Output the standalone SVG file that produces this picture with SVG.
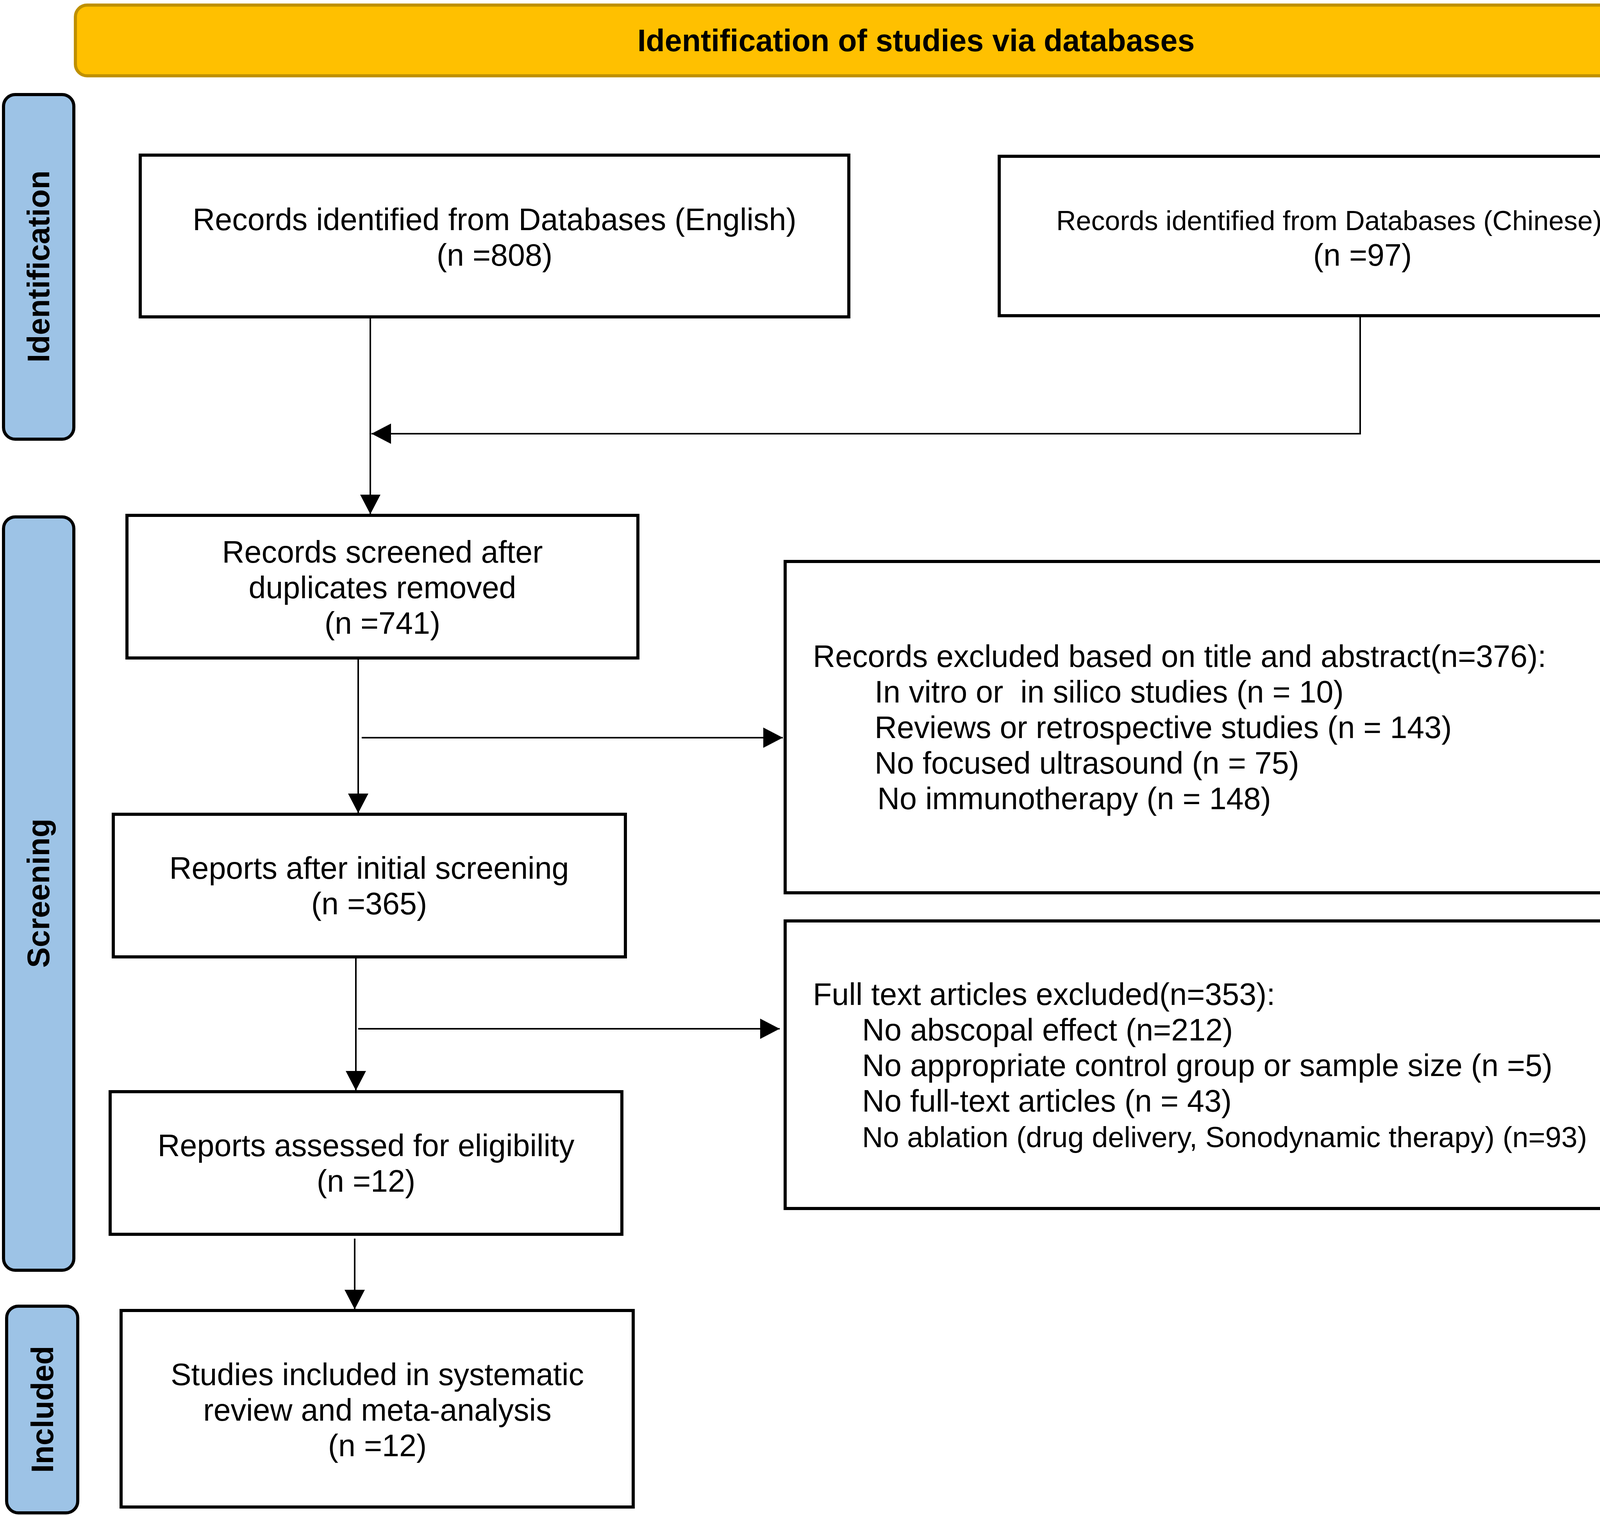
<svg xmlns="http://www.w3.org/2000/svg" width="4507" height="3880" viewBox="0 0 4507 3880">
<style>
.box{fill:#ffffff;stroke:#000000;stroke-width:8}
.side{fill:#9DC3E6;stroke:#000000;stroke-width:8}
.t{font-family:"Liberation Sans",Arial,sans-serif;font-size:79px;fill:#000000}
.c{text-anchor:middle}
.b{font-weight:bold}
.ln{fill:none;stroke:#000000;stroke-width:4}
</style>
<defs>
<marker id="ah" markerUnits="userSpaceOnUse" viewBox="0 0 50 52" refX="50" refY="26" markerWidth="50" markerHeight="52" orient="auto">
<path d="M0,0 L50,26 L0,52 Z" fill="#000000"/>
</marker>
</defs>
<rect width="4507" height="3880" fill="#ffffff"/>

<g id="banner">
<rect x="193" y="13" width="4305" height="181" rx="30" ry="30" fill="#FFC000" stroke="#BF9000" stroke-width="8"/>
<text class="t c b" x="2345" y="131">Identification of studies via databases</text>
</g>

<g id="phase-identification">
<rect class="side" x="9" y="242" width="180" height="882" rx="30" ry="30"/>
<text class="t c b" transform="translate(126,682) rotate(-90)">Identification</text>
</g>
<g id="phase-screening">
<rect class="side" x="9" y="1323" width="180" height="1928" rx="30" ry="30"/>
<text class="t c b" transform="translate(126,2286) rotate(-90)">Screening</text>
</g>
<g id="phase-included">
<rect class="side" x="17" y="3343" width="182" height="529" rx="30" ry="30"/>
<text class="t c b" transform="translate(136,3607) rotate(-90)">Included</text>
</g>

<g id="english">
<rect class="box" x="359" y="397" width="1814" height="414"/>
<text class="t c" x="1266" y="589">Records identified from Databases (English)</text>
<text class="t c" x="1266" y="680">(n =808)</text>
</g>
<g id="chinese">
<rect class="box" x="2558" y="400" width="1860" height="408"/>
<text class="t" x="2704" y="589" style="font-size:70px">Records identified from Databases (Chinese)</text>
<text class="t c" x="3488" y="680">(n =97)</text>
</g>
<g id="screened">
<rect class="box" x="325" y="1319" width="1308" height="365"/>
<text class="t c" x="979" y="1440">Records screened after</text>
<text class="t c" x="979" y="1531">duplicates removed</text>
<text class="t c" x="979" y="1622">(n =741)</text>
</g>
<g id="excluded-title">
<rect class="box" x="2010" y="1437" width="2442" height="848"/>
<text class="t" x="2081" y="1707">Records excluded based on title and abstract(n=376):</text>
<text class="t" x="2239" y="1798" xml:space="preserve">In vitro or  in silico studies (n = 10)</text>
<text class="t" x="2239" y="1889">Reviews or retrospective studies (n = 143)</text>
<text class="t" x="2239" y="1980">No focused ultrasound (n = 75)</text>
<text class="t" x="2246" y="2071">No immunotherapy (n = 148)</text>
</g>
<g id="initial">
<rect class="box" x="290" y="2084" width="1311" height="365"/>
<text class="t c" x="945" y="2249">Reports after initial screening</text>
<text class="t c" x="945" y="2340">(n =365)</text>
</g>
<g id="excluded-fulltext">
<rect class="box" x="2010" y="2357" width="2468" height="736"/>
<text class="t" x="2081" y="2572">Full text articles excluded(n=353):</text>
<text class="t" x="2207" y="2663">No abscopal effect (n=212)</text>
<text class="t" x="2207" y="2754">No appropriate control group or sample size (n =5)</text>
<text class="t" x="2207" y="2845">No full-text articles (n = 43)</text>
<text class="t" x="2207" y="2936" style="font-size:74px">No ablation (drug delivery, Sonodynamic therapy) (n=93)</text>
</g>
<g id="eligibility">
<rect class="box" x="282" y="2794" width="1310" height="365"/>
<text class="t c" x="937" y="2959">Reports assessed for eligibility</text>
<text class="t c" x="937" y="3050">(n =12)</text>
</g>
<g id="included">
<rect class="box" x="310" y="3354" width="1311" height="503"/>
<text class="t c" x="966" y="3545">Studies included in systematic</text>
<text class="t c" x="966" y="3636">review and meta-analysis</text>
<text class="t c" x="966" y="3727">(n =12)</text>
</g>

<g id="connectors">
<path class="ln" d="M948,811 L948,1316" marker-end="url(#ah)"/>
<path class="ln" d="M3482,808 L3482,1110 L951,1110" marker-end="url(#ah)"/>
<path class="ln" d="M917,1684 L917,2081" marker-end="url(#ah)"/>
<path class="ln" d="M926,1888 L2004,1888" marker-end="url(#ah)"/>
<path class="ln" d="M911,2449 L911,2791" marker-end="url(#ah)"/>
<path class="ln" d="M917,2633 L1996,2633" marker-end="url(#ah)"/>
<path class="ln" d="M908,3170 L908,3351" marker-end="url(#ah)"/>
</g>
</svg>
